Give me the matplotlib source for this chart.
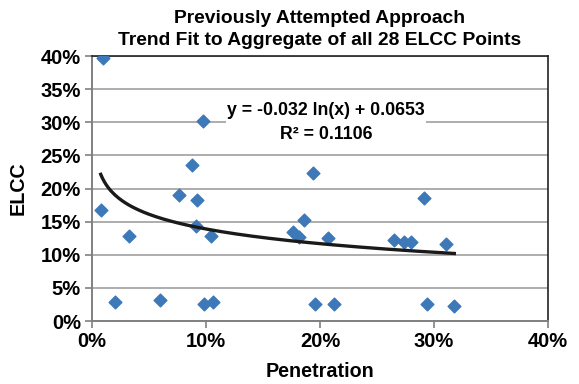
import matplotlib.pyplot as plt
import numpy as np
from matplotlib.ticker import PercentFormatter

plt.rcParams['font.family'] = ['Liberation Sans', 'DejaVu Sans']

penetration = [0.0099, 0.0076, 0.020, 0.032, 0.060, 0.076, 0.088, 0.092, 0.091,
               0.097, 0.098, 0.106, 0.104, 0.194, 0.176, 0.182, 0.186, 0.207,
               0.196, 0.212, 0.265, 0.274, 0.280, 0.291, 0.294, 0.311, 0.318]
elcc = [0.397, 0.167, 0.028, 0.128, 0.032, 0.190, 0.235, 0.183, 0.143,
        0.302, 0.025, 0.028, 0.129, 0.224, 0.134, 0.127, 0.152, 0.125,
        0.026, 0.026, 0.123, 0.119, 0.119, 0.185, 0.026, 0.116, 0.023]

# log trend from the chart label
slope = -0.032
intercept = 0.0653

fig = plt.figure(figsize=(5.79, 3.84), dpi=100)
ax = fig.add_axes([0.159, 0.164, 0.787, 0.690])

ax.grid(axis='y', color='#a0a0a0', linewidth=1.2)
ax.set_axisbelow(True)

ax.scatter(penetration, elcc, marker='D', s=42, color='#3d78b8', zorder=3)

xs = np.linspace(min(penetration), max(penetration), 200)
ax.plot(xs, slope * np.log(xs) + intercept, color='#1a1a1a', linewidth=2.4, zorder=4)

ax.set_xlim(0, 0.40)
ax.set_ylim(0, 0.40)
ax.set_xticks(np.arange(0, 0.41, 0.10))
ax.set_yticks(np.arange(0, 0.41, 0.05))
ax.xaxis.set_major_formatter(PercentFormatter(1.0, decimals=0))
ax.yaxis.set_major_formatter(PercentFormatter(1.0, decimals=0))
ax.tick_params(direction='out', length=5, width=1.2, color='#808080',
               labelsize=14.5, pad=3)
for lbl in ax.get_xticklabels() + ax.get_yticklabels():
    lbl.set_fontweight('bold')

for side in ['left', 'bottom']:
    ax.spines[side].set_color('#808080')
    ax.spines[side].set_linewidth(1.4)
for side in ['top', 'right']:
    ax.spines[side].set_color('#222222')
    ax.spines[side].set_linewidth(1.2)

ax.set_xlabel('Penetration', fontsize=14.2, fontweight='bold', labelpad=8)
ax.set_ylabel('ELCC', fontsize=14.2, fontweight='bold', labelpad=9)
ax.set_title('Previously Attempted Approach\nTrend Fit to Aggregate of all 28 ELCC Points',
             fontsize=13.9, fontweight='bold', pad=8, linespacing=1.4)

ax.text(0.2055, 0.3, 'y = -0.032 ln(x) + 0.0653\nR² = 0.1106',
        ha='center', va='center', fontsize=12.8, fontweight='bold',
        linespacing=1.55, zorder=5,
        bbox=dict(facecolor='white', edgecolor='none', pad=1))

fig.savefig('out.png', dpi=100)
